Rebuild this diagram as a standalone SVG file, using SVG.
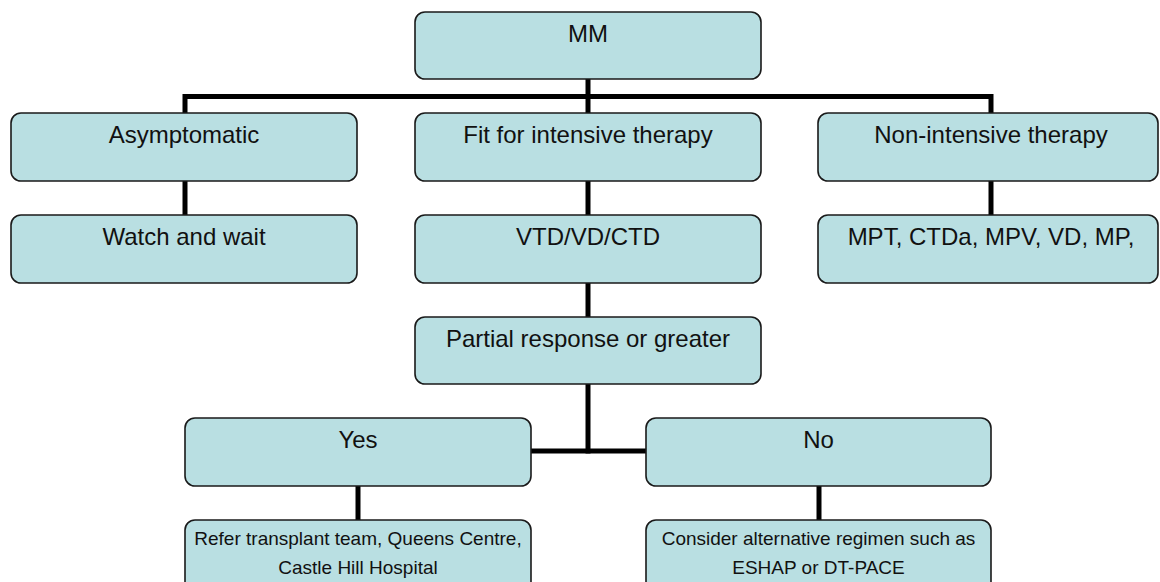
<svg xmlns="http://www.w3.org/2000/svg" width="1160" height="582" viewBox="0 0 1160 582">
  <style>
    .box { fill: #B9DFE2; stroke: #1a1a1a; stroke-width: 1.6; }
    .t { font-family: "Liberation Sans", Arial, sans-serif; font-size: 24px; fill: #111; text-anchor: middle; }
    .s { font-family: "Liberation Sans", Arial, sans-serif; font-size: 19px; fill: #111; text-anchor: middle; }
    .c { fill: none; stroke: #000; stroke-width: 5; stroke-linejoin: miter; stroke-linecap: butt; }
  </style>
  <rect width="1160" height="582" fill="#fff"/>
  <g id="connectors">
    <polyline class="c" points="185,113 185,96.5 991,96.5 991,113"/>
    <line class="c" x1="588" y1="79" x2="588" y2="113"/>
    <line class="c" x1="185" y1="181" x2="185" y2="215"/>
    <line class="c" x1="588" y1="181" x2="588" y2="215"/>
    <line class="c" x1="991" y1="181" x2="991" y2="215"/>
    <line class="c" x1="588" y1="283" x2="588" y2="317"/>
    <line class="c" x1="588" y1="384" x2="588" y2="453.5"/>
    <line class="c" x1="531" y1="451" x2="646" y2="451"/>
    <line class="c" x1="358" y1="486" x2="358" y2="520"/>
    <line class="c" x1="819" y1="486" x2="819" y2="520"/>
  </g>
  <g id="mm">
    <rect class="box" x="415" y="12" width="346" height="67" rx="10"/>
    <text class="t" x="588" y="42">MM</text>
  </g>
  <g id="asymptomatic">
    <rect class="box" x="11" y="113" width="346" height="68" rx="10"/>
    <text class="t" x="184" y="143">Asymptomatic</text>
  </g>
  <g id="fit">
    <rect class="box" x="415" y="113" width="346" height="68" rx="10"/>
    <text class="t" x="588" y="143">Fit for intensive therapy</text>
  </g>
  <g id="nonintensive">
    <rect class="box" x="818" y="113" width="340" height="68" rx="10"/>
    <text class="t" x="991" y="143">Non-intensive therapy</text>
  </g>
  <g id="watch">
    <rect class="box" x="11" y="215" width="346" height="68" rx="10"/>
    <text class="t" x="184" y="245">Watch and wait</text>
  </g>
  <g id="vtd">
    <rect class="box" x="415" y="215" width="346" height="68" rx="10"/>
    <text class="t" x="588" y="245">VTD/VD/CTD</text>
  </g>
  <g id="mpt">
    <rect class="box" x="818" y="215" width="340" height="68" rx="10"/>
    <text class="t" x="991" y="245">MPT, CTDa, MPV, VD, MP,</text>
  </g>
  <g id="partial">
    <rect class="box" x="415" y="317" width="346" height="67" rx="10"/>
    <text class="t" x="588" y="347">Partial response or greater</text>
  </g>
  <g id="yes">
    <rect class="box" x="185" y="418" width="346" height="68" rx="10"/>
    <text class="t" x="358" y="448">Yes</text>
  </g>
  <g id="no">
    <rect class="box" x="646" y="418" width="345" height="68" rx="10"/>
    <text class="t" x="818.5" y="448">No</text>
  </g>
  <g id="refer">
    <rect class="box" x="185" y="520" width="346" height="72" rx="10"/>
    <text class="s" x="358" y="545">Refer transplant team, Queens Centre,</text>
    <text class="s" x="358" y="574">Castle Hill Hospital</text>
  </g>
  <g id="consider">
    <rect class="box" x="646" y="520" width="345" height="72" rx="10"/>
    <text class="s" x="818.5" y="545">Consider alternative regimen such as</text>
    <text class="s" x="818.5" y="574">ESHAP or DT-PACE</text>
  </g>
</svg>
